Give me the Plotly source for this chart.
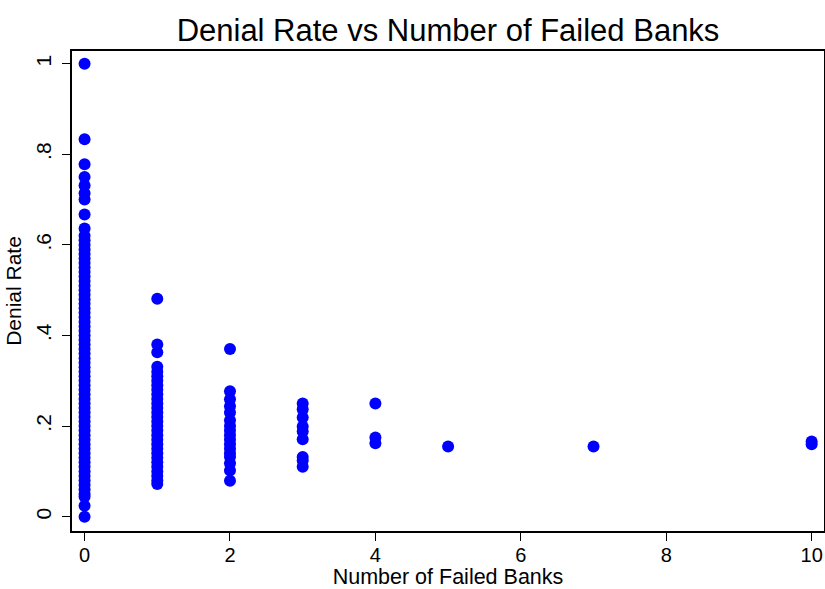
import plotly.graph_objects as go

# Denial rates grouped by number of failed banks
rates_0 = [0.0, 0.024, 0.044, 0.05, 0.06, 0.07, 0.08, 0.09, 0.10, 0.11, 0.12, 0.13,
           0.14, 0.15, 0.16, 0.17, 0.18, 0.19, 0.20, 0.21, 0.22, 0.23, 0.24, 0.25,
           0.26, 0.27, 0.28, 0.29, 0.30, 0.31, 0.32, 0.33, 0.34, 0.35, 0.36, 0.37,
           0.38, 0.39, 0.40, 0.41, 0.42, 0.43, 0.44, 0.45, 0.46, 0.47, 0.48, 0.49,
           0.50, 0.51, 0.52, 0.53, 0.54, 0.55, 0.56, 0.57, 0.58, 0.59, 0.60, 0.61,
           0.62, 0.636, 0.667, 0.70, 0.714, 0.731, 0.75, 0.778, 0.833, 1.0]
rates_1 = [0.072, 0.08, 0.09, 0.10, 0.11, 0.12, 0.13, 0.14, 0.15, 0.16, 0.17, 0.18,
           0.19, 0.20, 0.21, 0.22, 0.23, 0.24, 0.25, 0.26, 0.27, 0.28, 0.29, 0.30,
           0.31, 0.32, 0.331, 0.363, 0.380, 0.481]
rates_2 = [0.0795, 0.102, 0.118, 0.132, 0.14, 0.15, 0.16, 0.17, 0.18, 0.19, 0.20,
           0.213, 0.230, 0.244, 0.259, 0.277, 0.370]
rates_3 = [0.110, 0.124, 0.132, 0.171, 0.188, 0.199, 0.219, 0.237, 0.250]
rates_4 = [0.162, 0.175, 0.250]
rates_5 = [0.155]
rates_7 = [0.155]
rates_10 = [0.160, 0.166]

groups = {0: rates_0, 1: rates_1, 2: rates_2, 3: rates_3, 4: rates_4,
          5: rates_5, 7: rates_7, 10: rates_10}

x_ticks = [0, 2, 4, 6, 8, 10]
y_ticks = [0, 0.2, 0.4, 0.6, 0.8, 1.0]
y_tick_labels = ["0", ".2", ".4", ".6", ".8", "1"]

xs, ys = [], []
for k, vals in groups.items():
    xs += [k] * len(vals)
    ys += vals

fig = go.Figure(go.Scatter(
    x=xs, y=ys, mode="markers",
    marker=dict(color="#0000FF", size=12, line=dict(width=0)),
))

font = "Liberation Sans, Arial, Helvetica, sans-serif"
fig.update_layout(
    width=825, height=589,
    margin=dict(l=72, r=1, t=51, b=58),
    paper_bgcolor="white", plot_bgcolor="white",
    showlegend=False,
    font=dict(family=font, color="black", size=21),
    title=dict(text="Denial Rate vs Number of Failed Banks", x=0.5, xref="paper",
               xanchor="center", y=0.948, yanchor="middle",
               font=dict(size=31, family=font, color="black")),
)
fig.update_xaxes(
    range=[-0.173, 10.17], tickvals=x_ticks, ticktext=[str(v) for v in x_ticks],
    showgrid=False, zeroline=False, automargin=False,
    showline=True, linecolor="black", linewidth=1.5, mirror=True,
    ticks="outside", ticklen=8, tickcolor="black", tickwidth=1.2,
    tickfont=dict(size=20), ticklabelstandoff=-3,
    title=dict(text="Number of Failed Banks", font=dict(size=21.5), standoff=2),
)
fig.update_yaxes(
    range=[-0.0316, 1.028], tickvals=y_ticks, ticktext=y_tick_labels,
    tickangle=-90,
    showgrid=False, zeroline=False, automargin=False,
    showline=True, linecolor="black", linewidth=1.5, mirror=True,
    ticks="outside", ticklen=8, tickcolor="black", tickwidth=1.2,
    tickfont=dict(size=21), ticklabelstandoff=3,
    title=dict(text="Denial Rate", font=dict(size=21), standoff=4),
)

fig.write_html(
    "out.html",
    config={"displayModeBar": False},
    post_script="document.body.style.margin='0';document.body.style.overflow='hidden';",
)
